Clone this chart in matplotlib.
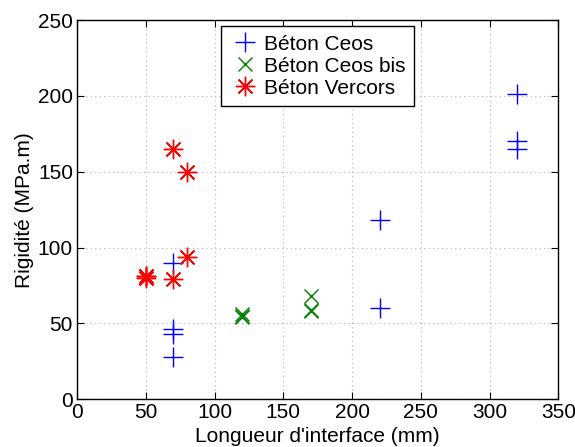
import matplotlib.pyplot as plt

plt.rcParams['font.family'] = ['Liberation Sans', 'DejaVu Sans']

# Béton Ceos
ceos_x = [70, 70, 70, 70, 220, 220, 320, 320, 320]
ceos_y = [90, 46, 43, 28, 118, 60, 201, 170, 165]

# Béton Ceos bis
bis_x = [120, 120, 120, 170, 170, 170]
bis_y = [56, 54, 55, 68, 59, 58]

# Béton Vercors
verc_x = [50, 50, 50, 70, 80, 80, 70]
verc_y = [81, 81, 80, 165, 150, 94, 79]

fig = plt.figure(figsize=(5.75, 4.47), dpi=100)
ax = fig.add_axes([0.134, 0.107, 0.837, 0.848])

ax.plot(ceos_x, ceos_y, '+', color='blue', ms=15, mew=1, ls='none', label='Béton Ceos')
ax.plot(bis_x, bis_y, 'x', color='green', ms=10, mew=1, ls='none', label='Béton Ceos bis')
# matlab-like asterisk: 8 spokes
ax.plot(verc_x, verc_y, marker=(8, 2, 0), color='red', ms=14, mew=1, ls='none', label='Béton Vercors')

ax.set_xlim(0, 350)
ax.set_ylim(0, 250)
ax.set_xticks(range(0, 351, 50))
ax.set_yticks(range(0, 251, 50))
ax.grid(True, color='0.7', lw=0.8, dashes=(1, 3))
ax.tick_params(direction='in', top=True, right=True, labelsize=15, length=5, pad=3)
for s in ax.spines.values():
    s.set_linewidth(1)

ax.set_xlabel("Longueur d'interface (mm)", fontsize=15, labelpad=3)
ax.set_ylabel('Rigidité (MPa.m)', fontsize=15, labelpad=3)

leg = ax.legend(loc='upper center', bbox_to_anchor=(0.5, 0.984), fontsize=15, fancybox=False,
                edgecolor='black', framealpha=1, handletextpad=0.15, borderpad=0.4,
                labelspacing=0.15, handlelength=1.5, borderaxespad=0)
leg.get_frame().set_linewidth(1)

fig.savefig('out.png', dpi=100)
